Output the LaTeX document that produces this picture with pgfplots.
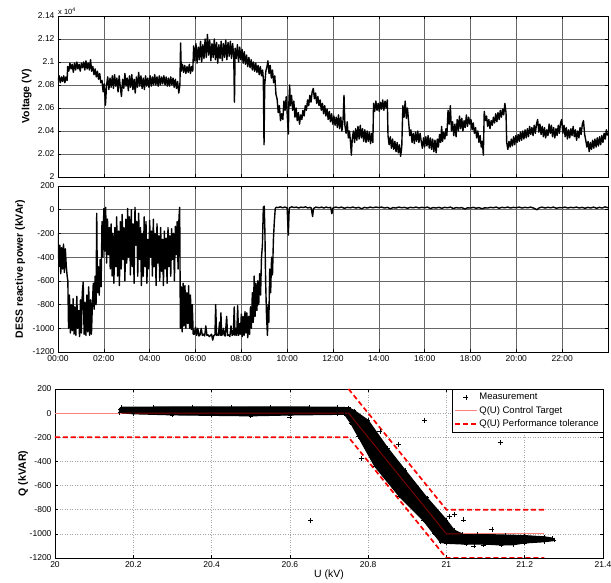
\documentclass[border=0pt]{standalone}
\usepackage{pgfplots}
\pgfplotsset{compat=1.18}
\usepackage{pgfplotstable}
\usepackage{fontspec}
\setmainfont{Liberation Sans}
\definecolor{pureRed}{RGB}{255,0,0}
\definecolor{pinkRed}{RGB}{255,128,128}

\pgfplotstableread{
h v
0.00 2.084
0.05 2.088
0.10 2.082
0.15 2.087
0.20 2.083
0.25 2.088
0.30 2.082
0.35 2.087
0.40 2.084
0.42 2.096
0.47 2.092
0.52 2.099
0.57 2.094
0.62 2.098
0.67 2.091
0.72 2.099
0.77 2.093
0.82 2.100
0.87 2.094
0.92 2.098
0.97 2.092
1.02 2.099
1.07 2.095
1.12 2.100
1.17 2.093
1.22 2.101
1.27 2.094
1.32 2.099
1.37 2.093
1.42 2.102
1.47 2.092
1.52 2.096
1.57 2.089
1.62 2.094
1.67 2.087
1.72 2.092
1.77 2.085
1.82 2.090
1.87 2.082
1.92 2.084
1.97 2.074
2.02 2.081
2.07 2.0625
2.12 2.080
2.17 2.087
2.22 2.076
2.27 2.086
2.32 2.078
2.37 2.088
2.42 2.077
2.47 2.089
2.52 2.079
2.57 2.086
2.62 2.074
2.67 2.088
2.72 2.078
2.77 2.070
2.82 2.085
2.87 2.077
2.92 2.090
2.97 2.079
3.02 2.086
3.07 2.075
3.12 2.088
3.17 2.078
3.22 2.089
3.27 2.076
3.32 2.085
3.37 2.073
3.42 2.087
3.47 2.078
3.52 2.091
3.57 2.079
3.62 2.088
3.67 2.077
3.72 2.086
3.77 2.076
3.82 2.088
3.87 2.079
3.92 2.086
3.97 2.078
4.02 2.088
4.07 2.079
4.12 2.087
4.17 2.080
4.22 2.089
4.27 2.080
4.32 2.087
4.37 2.079
4.42 2.088
4.47 2.080
4.52 2.087
4.57 2.081
4.62 2.088
4.67 2.080
4.72 2.087
4.77 2.079
4.82 2.086
4.87 2.079
4.92 2.087
4.97 2.080
5.02 2.086
5.07 2.078
5.12 2.085
5.17 2.077
5.22 2.083
5.27 2.073
5.32 2.080
5.35 2.1165
5.38 2.092
5.43 2.098
5.48 2.091
5.53 2.097
5.58 2.090
5.63 2.096
5.68 2.091
5.73 2.098
5.78 2.090
5.83 2.096
5.88 2.092
5.92 2.114
5.97 2.101
6.02 2.116
6.07 2.099
6.12 2.113
6.17 2.102
6.22 2.118
6.27 2.100
6.32 2.115
6.37 2.103
6.42 2.120
6.47 2.104
6.52 2.124
6.57 2.106
6.62 2.119
6.67 2.101
6.72 2.116
6.77 2.104
6.82 2.120
6.87 2.102
6.92 2.117
6.97 2.099
7.02 2.115
7.07 2.103
7.12 2.118
7.17 2.101
7.22 2.116
7.27 2.104
7.32 2.119
7.37 2.102
7.42 2.117
7.47 2.105
7.52 2.118
7.57 2.103
7.62 2.116
7.67 2.104
7.70 2.065
7.73 2.112
7.78 2.103
7.83 2.115
7.88 2.100
7.93 2.113
7.98 2.102
8.03 2.111
8.08 2.099
8.13 2.109
8.18 2.098
8.23 2.106
8.28 2.096
8.33 2.104
8.38 2.095
8.43 2.102
8.48 2.093
8.53 2.100
8.58 2.092
8.63 2.099
8.68 2.091
8.73 2.097
8.78 2.089
8.83 2.096
8.88 2.088
8.93 2.093
8.96 2.085
8.99 2.028
9.02 2.080
9.07 2.092
9.12 2.096
9.16 2.101
9.21 2.090
9.26 2.097
9.31 2.086
9.36 2.093
9.41 2.082
9.46 2.088
9.51 2.072
9.56 2.068
9.61 2.056
9.66 2.062
9.71 2.049
9.76 2.055
9.81 2.050
9.86 2.066
9.91 2.058
9.96 2.070
10.01 2.052
10.05 2.0374
10.08 2.068
10.11 2.080
10.14 2.062
10.19 2.071
10.24 2.058
10.29 2.066
10.34 2.052
10.39 2.060
10.44 2.049
10.49 2.056
10.54 2.046
10.59 2.054
10.64 2.050
10.69 2.058
10.74 2.053
10.79 2.062
10.84 2.058
10.89 2.067
10.94 2.062
10.99 2.071
11.04 2.065
11.09 2.074
11.14 2.077
11.19 2.068
11.24 2.073
11.29 2.064
11.34 2.070
11.39 2.062
11.44 2.067
11.49 2.058
11.54 2.064
11.59 2.055
11.64 2.062
11.69 2.053
11.74 2.059
11.79 2.050
11.84 2.057
11.89 2.048
11.94 2.055
11.99 2.046
12.04 2.053
12.09 2.045
12.14 2.052
12.19 2.043
12.24 2.054
12.29 2.042
12.34 2.052
12.39 2.040
12.44 2.050
12.48 2.071
12.52 2.045
12.57 2.038
12.62 2.048
12.67 2.034
12.72 2.040
12.77 2.029
12.80 2.019
12.84 2.033
12.89 2.040
12.94 2.030
12.99 2.042
13.04 2.032
13.09 2.044
13.14 2.033
13.19 2.045
13.24 2.034
13.29 2.042
13.34 2.031
13.39 2.041
13.44 2.030
13.49 2.040
13.54 2.031
13.59 2.039
13.64 2.029
13.69 2.038
13.74 2.030
13.77 2.064
13.82 2.057
13.87 2.066
13.92 2.058
13.97 2.064
14.02 2.057
14.07 2.065
14.12 2.059
14.17 2.067
14.22 2.058
14.27 2.066
14.32 2.060
14.37 2.067
14.40 2.036
14.45 2.028
14.50 2.035
14.55 2.025
14.60 2.033
14.65 2.024
14.70 2.031
14.75 2.022
14.80 2.030
14.85 2.021
14.90 2.028
14.95 2.018
15.00 2.026
15.05 2.062
15.10 2.052
15.15 2.066
15.20 2.051
15.25 2.060
15.30 2.048
15.35 2.036
15.40 2.041
15.45 2.030
15.50 2.038
15.55 2.029
15.60 2.039
15.65 2.031
15.70 2.040
15.75 2.030
15.80 2.038
15.85 2.031
15.90 2.025
15.95 2.034
16.00 2.026
16.05 2.035
16.10 2.027
16.15 2.036
16.20 2.025
16.25 2.034
16.30 2.024
16.35 2.033
16.40 2.022
16.45 2.032
16.50 2.021
16.55 2.033
16.60 2.026
16.65 2.037
16.70 2.030
16.74 2.044
16.78 2.031
16.83 2.039
16.88 2.033
16.93 2.042
16.97 2.036
17.02 2.058
17.07 2.046
17.12 2.062
17.17 2.040
17.22 2.048
17.27 2.036
17.32 2.046
17.37 2.035
17.42 2.050
17.47 2.040
17.52 2.053
17.57 2.042
17.62 2.051
17.67 2.040
17.72 2.049
17.77 2.043
17.82 2.054
17.87 2.044
17.92 2.052
17.97 2.046
18.02 2.050
18.07 2.041
18.12 2.047
18.17 2.038
18.22 2.043
18.27 2.034
18.32 2.040
18.37 2.030
18.42 2.036
18.47 2.026
18.52 2.031
18.56 2.019
18.60 2.057
18.65 2.049
18.70 2.053
18.75 2.044
18.80 2.050
18.85 2.042
18.90 2.049
18.95 2.045
19.00 2.052
19.05 2.047
19.10 2.055
19.15 2.048
19.20 2.056
19.25 2.050
19.30 2.058
19.35 2.052
19.40 2.059
19.45 2.054
19.50 2.064
19.55 2.056
19.58 2.030
19.63 2.024
19.68 2.031
19.73 2.026
19.78 2.033
19.83 2.027
19.88 2.035
19.93 2.028
19.98 2.036
20.03 2.030
20.08 2.037
20.13 2.031
20.18 2.039
20.23 2.032
20.28 2.040
20.33 2.033
20.38 2.041
20.43 2.034
20.48 2.042
20.53 2.035
20.58 2.044
20.63 2.037
20.68 2.043
20.73 2.036
20.78 2.045
20.83 2.038
20.88 2.046
20.93 2.050
20.98 2.039
21.03 2.046
21.08 2.037
21.13 2.044
21.18 2.035
21.23 2.043
21.28 2.034
21.33 2.041
21.38 2.036
21.43 2.046
21.48 2.038
21.53 2.045
21.58 2.035
21.63 2.043
21.68 2.034
21.73 2.042
21.78 2.036
21.83 2.045
21.88 2.038
21.93 2.047
21.98 2.050
22.03 2.038
22.08 2.045
22.13 2.035
22.18 2.043
22.23 2.033
22.28 2.041
22.33 2.034
22.38 2.042
22.43 2.036
22.48 2.044
22.53 2.035
22.58 2.041
22.63 2.032
22.68 2.040
22.73 2.034
22.78 2.043
22.83 2.037
22.88 2.046
22.93 2.049
22.98 2.037
23.03 2.032
23.08 2.026
23.13 2.031
23.18 2.022
23.23 2.030
23.28 2.024
23.33 2.032
23.38 2.025
23.43 2.033
23.48 2.026
23.53 2.034
23.58 2.027
23.63 2.035
23.68 2.028
23.73 2.036
23.78 2.030
23.83 2.038
23.88 2.033
23.93 2.041
23.98 2.036
}\voltdata

\pgfplotstableread{
h q
0.00 -200
0.04 -480
0.08 -300
0.12 -540
0.16 -320
0.20 -500
0.24 -290
0.28 -530
0.32 -330
0.36 -470
0.40 -560
0.43 -600
0.46 -1000
0.50 -720
0.54 -1040
0.58 -800
0.62 -1020
0.66 -750
0.70 -1050
0.74 -820
0.78 -1060
0.82 -730
0.86 -1000
0.90 -850
0.94 -1070
0.98 -760
1.02 -1040
1.06 -700
1.10 -610
1.14 -1050
1.18 -780
1.22 -1060
1.26 -720
1.30 -1030
1.34 -650
1.38 -1060
1.42 -760
1.46 -1050
1.50 -800
1.54 -620
1.58 -840
1.62 -560
1.66 -800
1.69 -30
1.72 -700
1.76 -480
1.80 -720
1.84 -420
1.88 -650
1.92 -100
1.96 -400
2.00 10
2.04 -350
2.08 20
2.12 -450
2.16 -80
2.20 -380
2.24 -150
2.28 -500
2.32 -120
2.36 -560
2.40 -200
2.44 -620
2.48 -150
2.52 -480
2.56 -60
2.60 -560
2.64 -180
2.68 -640
2.72 -100
2.76 -500
2.80 -40
2.84 -420
2.88 -150
2.92 -600
2.96 -80
3.00 -450
3.04 10
3.08 -400
3.12 -60
3.16 -550
3.20 0
3.24 -480
3.28 -120
3.32 -620
3.36 20
3.40 -300
3.44 -100
3.48 -560
3.52 -30
3.56 -420
3.60 -150
3.64 -640
3.68 -200
3.72 -560
3.76 -60
3.80 -480
3.84 -100
3.88 -620
3.92 -250
3.96 -500
4.00 -90
4.04 -400
4.08 -180
4.12 -560
4.16 -80
4.20 -480
4.24 -200
4.28 -640
4.32 -120
4.36 -450
4.40 -220
4.44 -600
4.48 -150
4.52 -520
4.56 -250
4.60 -640
4.64 -180
4.68 -500
4.72 -240
4.76 -620
4.80 -150
4.84 -480
4.88 -220
4.92 -560
4.96 -160
5.00 -420
5.04 -200
5.08 -600
5.12 -140
5.16 -380
5.20 -100
5.24 -500
5.28 -60
5.31 20
5.34 -1000
5.38 -650
5.42 -1030
5.46 -620
5.50 -980
5.54 -640
5.58 -1000
5.62 -700
5.66 -960
5.70 -640
5.74 -1000
5.78 -720
5.82 -1010
5.86 -800
5.90 -1050
5.95 -1050
6.00 -990
6.05 -1060
6.10 -1000
6.15 -1065
6.20 -1055
6.25 -1000
6.30 -1060
6.35 -1050
6.40 -1065
6.45 -980
6.50 -1060
6.55 -1055
6.60 -1070
6.65 -1060
6.70 -1050
6.75 -1100
6.80 -1060
6.85 -1055
6.88 -800
6.92 -1060
6.96 -1050
7.00 -1060
7.05 -950
7.08 -1060
7.11 -870
7.14 -1060
7.18 -1050
7.22 -1000
7.26 -1060
7.30 -1065
7.36 -900
7.40 -1060
7.45 -1055
7.50 -1070
7.55 -980
7.60 -1060
7.65 -1050
7.69 -820
7.72 -1060
7.76 -1000
7.80 -1060
7.84 -810
7.88 -1060
7.92 -960
7.96 -1050
8.00 -880
8.04 -1070
8.08 -900
8.12 -1060
8.16 -860
8.20 -1040
8.24 -870
8.28 -1080
8.32 -900
8.36 -1050
8.40 -820
8.44 -1000
8.48 -700
8.52 -950
8.56 -560
8.60 -900
8.64 -620
8.68 -850
8.72 -600
8.76 -800
8.80 -540
8.84 -720
8.88 -400
8.92 -300
8.96 20
9.00 30
9.03 -200
9.06 -600
9.10 -900
9.14 -1060
9.17 -800
9.20 -950
9.24 -500
9.28 -700
9.32 -400
9.36 -550
9.40 -250
9.44 -100
9.48 10
9.52 20
9.60 18
9.70 24
9.80 16
9.90 22
10.00 16
10.05 -214
10.09 15
10.20 24
10.30 18
10.40 22
10.50 14
10.60 22
10.70 18
10.80 24
10.90 15
11.00 20
11.05 14
11.11 -57
11.15 10
11.25 22
11.40 16
11.50 22
11.60 14
11.70 22
11.80 16
11.90 20
11.95 -34
12.00 15
12.12 22
12.25 16
12.37 22
12.50 12
12.62 20
12.75 16
12.87 22
13.00 14
13.12 20
13.25 8
13.37 20
13.50 14
13.62 22
13.75 16
13.87 22
14.00 18
14.12 22
14.25 14
14.37 20
14.50 8
14.62 18
14.75 14
14.87 22
15.00 16
15.12 20
15.25 12
15.37 20
15.50 16
15.62 22
15.75 14
15.87 20
16.00 16
16.12 22
16.25 10
16.37 18
16.50 14
16.62 20
16.75 12
16.87 20
17.00 16
17.12 22
17.25 10
17.37 18
17.50 14
17.62 18
17.75 6
17.87 16
18.00 14
18.12 20
18.25 12
18.37 18
18.50 8
18.62 16
18.75 14
18.87 20
19.00 16
19.12 22
19.25 12
19.37 20
19.50 16
19.62 22
19.75 14
19.87 20
20.00 16
20.12 22
20.25 14
20.37 20
20.50 16
20.62 22
20.75 14
20.90 0
21.00 16
21.12 22
21.25 14
21.37 20
21.50 16
21.62 22
21.75 12
21.87 18
22.00 16
22.12 22
22.25 14
22.37 20
22.50 16
22.62 22
22.75 14
22.87 20
23.00 12
23.12 20
23.25 14
23.37 22
23.50 12
23.62 20
23.75 14
23.87 24
24.00 16
}\qdata

\pgfplotsset{
  every axis/.append style={
    scale only axis,
    anchor=south west,
    tick label style={font=\fontsize{8.5}{10}\selectfont},
    label style={font=\bfseries\fontsize{10.5}{12}\selectfont},
    axis line style={line width=0.9pt},
    major tick length=3pt,
    tick style={black, line width=0.6pt},
    /pgf/number format/assume math mode=true,
  },
}

\begin{document}
\begin{tikzpicture}
\useasboundingbox (0,0) rectangle (611pt,583pt);

% ---------------- Voltage ----------------
\begin{axis}[
  name=top,
  at={(58pt,406pt)},
  width=550pt, height=161pt,
  xmin=0, xmax=24, ymin=2.0, ymax=2.14,
  xtick={0,2,4,6,8,10,12,14,16,18,20,22},
  xticklabels={},
  ytick={2,2.02,2.04,2.06,2.08,2.1,2.12,2.14},
  yticklabels={2,2.02,2.04,2.06,2.08,2.1,2.12,2.14},
  grid=major,
  major grid style={black!60, line width=0.6pt},
  ylabel={Voltage (V)},
  ylabel style={at={(axis description cs:-0.057,0.5)}, anchor=center},
]
\addplot[black, line width=1.4pt, line join=round] table[x=h, y=v] {\voltdata};
\end{axis}
\node[anchor=south west, inner sep=0pt, font=\fontsize{7.5}{8}\selectfont] at ([yshift=1.5pt]top.north west) {x 10\textsuperscript{4}};

% ---------------- Reactive power ----------------
\begin{axis}[
  name=mid,
  at={(58pt,231pt)},
  width=550pt, height=166pt,
  xmin=0, xmax=24, ymin=-1200, ymax=200,
  xtick={0,2,4,6,8,10,12,14,16,18,20,22},
  xticklabels={00:00,02:00,04:00,06:00,08:00,10:00,12:00,14:00,16:00,18:00,20:00,22:00},
  ytick={-1200,-1000,-800,-600,-400,-200,0,200},
  yticklabels={-1200,-1000,-800,-600,-400,-200,0,200},
  grid=major,
  major grid style={black!60, line width=0.6pt},
  ylabel={DESS reactive power (kVAr)},
  ylabel style={at={(axis description cs:-0.069,0.5)}, anchor=center},
]
\addplot[black, line width=1.4pt, line join=round] table[x=h, y=q] {\qdata};
\end{axis}

% ---------------- Q(U) ----------------
\begin{axis}[
  name=bot,
  at={(55pt,25pt)},
  width=548pt, height=169pt,
  xmin=20, xmax=21.4, ymin=-1200, ymax=200,
  xtick={20,20.2,20.4,20.6,20.8,21,21.2,21.4},
  xticklabels={20,20.2,20.4,20.6,20.8,21,21.2,21.4},
  ytick={-1200,-1000,-800,-600,-400,-200,0,200},
  yticklabels={-1200,-1000,-800,-600,-400,-200,0,200},
  grid=major,
  major grid style={black!35, line width=0.5pt, dotted},
  axis line style={line width=0.6pt},
  ylabel={Q (kVAR)},
  ylabel style={at={(axis description cs:-0.058,0.5)}, anchor=center},
  xlabel={U (kV)},
  xlabel style={at={(axis description cs:0.5,-0.05)}, anchor=north, font=\fontsize{10.5}{12}\selectfont},
  legend image code/.code={\draw[mark repeat=2,mark phase=2,#1] plot coordinates {(0cm,0cm) (0.38cm,0cm) (0.76cm,0cm)};},
  legend style={at={(1,1)}, anchor=north east, draw=black, line width=0.5pt, fill=white,
    font=\fontsize{9.5}{11}\selectfont, inner sep=2pt, row sep=1pt, cells={anchor=west}},
]
\addplot[only marks, mark=+, mark size=2.5pt, black, line width=0.5pt] coordinates {
  (20.600,-30) (20.653,-891) (20.782,-374) (20.830,-148) (20.877,-256)
  (20.944,-57) (21.007,-858) (21.020,-840) (21.043,-885) (21.070,-1100)
  (21.094,-1092) (21.116,-962) (21.137,-245)
};
\addlegendentry{Measurement}

\addplot[black, fill=black, line width=1.2pt, mark=+, mark size=2pt, mark options={line width=0.5pt}, forget plot] coordinates {
  (20.165,30) (20.17,48) (20.25,50) (20.35,52) (20.45,50) (20.55,52) (20.65,50)
  (20.72,48) (20.75,45) (20.765,20) (20.80,-60) (20.85,-290) (20.894,-471)
  (20.95,-700) (21.00,-885) (21.02,-970) (21.04,-1000) (21.08,-1005) (21.15,-1010)
  (21.20,-1015) (21.25,-1025) (21.27,-1035)
  (21.275,-1055) (21.25,-1065) (21.20,-1075) (21.17,-1090) (21.14,-1092) (21.10,-1085)
  (21.05,-1085) (21.00,-1078) (20.985,-1070) (20.967,-996) (20.94,-885) (20.88,-690)
  (20.817,-440) (20.775,-195) (20.755,-80) (20.74,-10) (20.72,-10) (20.60,-15)
  (20.50,-22) (20.40,-18) (20.30,-14) (20.20,-5) (20.165,5)
} -- cycle;

\addplot[pinkRed, line width=1.2pt, forget plot] coordinates {
  (20,0) (20.17,0)
};
\addplot[red!50!black, line width=0.9pt, forget plot] coordinates {
  (20.17,0) (20.75,0) (21.0,-1000) (21.04,-1000)
};
\addplot[pinkRed, line width=1.2pt] coordinates {
  (21.04,-1000) (21.25,-1000)
};
\addlegendentry{Q(U) Control Target}

\addplot[pureRed, line width=1.7pt, dash pattern=on 5pt off 3pt, line cap=butt] coordinates {
  (20,-200) (20.75,-200) (21.0,-1200) (21.25,-1200)
};
\addlegendentry{Q(U) Performance tolerance}

\addplot[pureRed, line width=1.7pt, dash pattern=on 5pt off 3pt, line cap=butt, forget plot] coordinates {
  (20.75,200) (21.0,-800) (21.25,-800)
};
\end{axis}
\end{tikzpicture}
\end{document}
